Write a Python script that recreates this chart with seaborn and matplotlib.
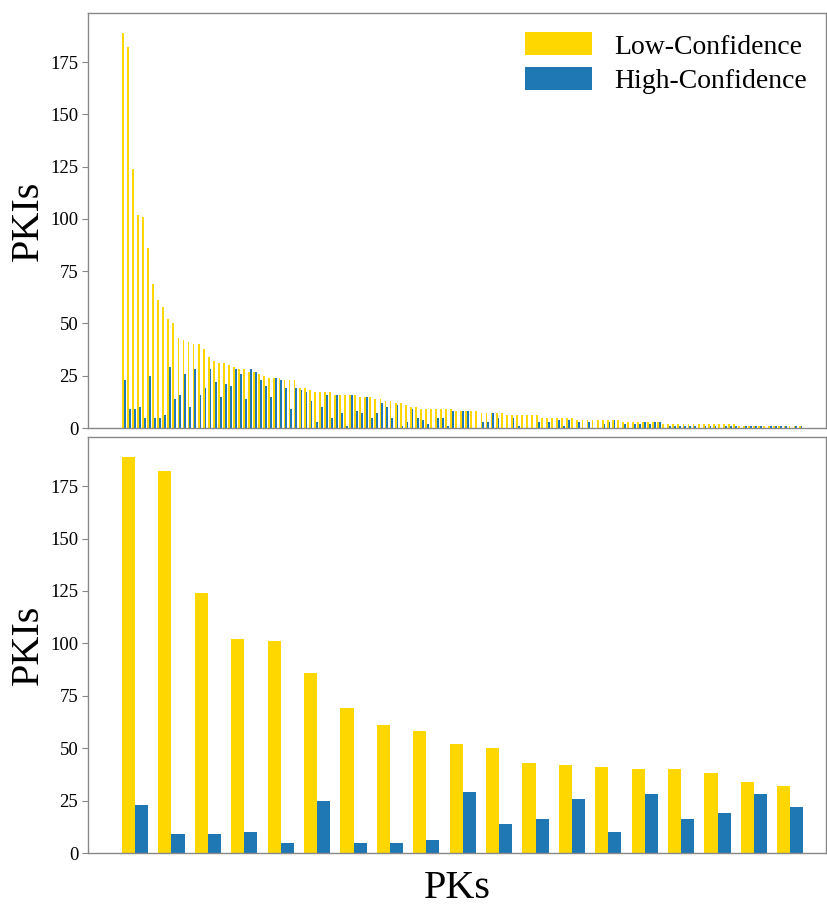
import matplotlib.pyplot as plt
import pandas as pd
import seaborn as sns

# PKIs per PK, sorted by low-confidence count
low_conf = [189, 182, 124, 102, 101, 86, 69, 61, 58, 52, 50, 43, 42, 41, 40, 40, 38, 34, 32,
            31, 31, 30, 29, 28, 28, 27, 27, 26, 25, 24, 24, 24, 23, 23,
            23, 19, 19, 18, 17, 17, 17, 17, 16, 16, 16, 16, 16, 15, 15, 15, 14, 14, 13, 13, 12,
            12, 11, 10, 10, 9, 9, 9, 9, 9, 9, 9, 8, 8, 8, 8, 8, 7, 7, 7, 7, 7,
            6, 6, 6, 6, 6, 6, 6,
            5, 5, 5, 5, 5, 5, 5,
            4, 4, 4, 4, 4, 4, 4, 4, 4,
            3, 3, 3, 3, 3, 3, 3, 3,
            2, 2, 2, 2, 2, 2, 2, 2, 2, 2, 2, 2, 2, 2, 2,
            1, 1, 1, 1, 1, 1, 1, 1, 1, 1, 1, 1, 1]
high_conf = [23, 9, 9, 10, 5, 25, 5, 5, 6, 29, 14, 16, 26, 10, 28, 16, 19, 28, 22,
             15, 21, 20, 28, 26, 14, 28, 27, 23, 20, 15, 24, 23, 19, 9,
             19, 18, 17, 13, 3, 10, 16, 5, 16, 7, 1, 16, 8, 7, 15, 5, 7, 12, 10, 5,
             11, 1, 3, 9, 5, 4, 2, 0, 5, 5, 1, 8, 0, 8, 8, 0, 0, 3, 3, 7, 5,
             0, 0, 5, 1, 0, 0, 0, 3, 0, 3, 0, 4, 1, 4, 0, 3, 0, 3, 0, 0,
             2, 3, 4, 0, 2, 0, 2, 2, 3, 2, 3, 3, 0, 1, 1, 1, 1, 1, 1, 0, 1,
             1, 1, 0, 1, 1, 1, 0, 1, 1, 1, 1, 0, 1, 1, 1, 1, 0, 1, 1]
series_names = ["Low-Confidence", "High-Confidence"]
colors = {"Low-Confidence": "#FFD700", "High-Confidence": "#1F77B4"}
top_n = 19


def long_df(n):
    pks = [f"PK{i + 1}" for i in range(n)]
    return pd.DataFrame({
        "pk": pks * 2,
        "pkis": low_conf[:n] + high_conf[:n],
        "kind": [series_names[0]] * n + [series_names[1]] * n,
    })


sns.set_style("ticks")
plt.rcParams['font.family'] = ['Liberation Serif', 'DejaVu Serif']
plt.rcParams['text.color'] = 'black'
plt.rcParams['axes.labelcolor'] = 'black'

fig = plt.figure(figsize=(8.27, 9.07), dpi=100)
ax_all = fig.add_axes([0.1064, 0.5281, 0.8924, 0.4576])
ax_top = fig.add_axes([0.1064, 0.0595, 0.8924, 0.4587])

n_all = len(low_conf)
for ax, n in [(ax_all, n_all), (ax_top, top_n)]:
    sns.barplot(data=long_df(n), x="pk", y="pkis", hue="kind", palette=colors,
                width=0.72, saturation=1, errorbar=None, linewidth=0, ax=ax)
    ax.set_ylim(0, max(low_conf) * 1.05)
    ax.set_yticks(range(0, 176, 25))
    ax.set_xticks([])
    ax.set_xlabel("")
    ax.set_ylabel("PKIs", fontsize=29, labelpad=2)
    ax.tick_params(axis="y", labelsize=13.5, color="#888888", labelcolor="black",
                   length=4, pad=3)
    for sp in ax.spines.values():
        sp.set_visible(True)
        sp.set_color("#888888")
        sp.set_linewidth(1)

# pixel-matched x ranges
ax_all.set_xlim(-7.09, 139.05)
ax_top.set_xlim(-1.294, 18.98)

ax_top.get_legend().remove()
ax_top.set_xlabel("PKs", fontsize=29, labelpad=12)

lgd = ax_all.legend(loc="upper right", frameon=False, fontsize=20,
                    handlelength=2.4, handleheight=0.9, borderaxespad=0.3,
                    labelspacing=0.28)

plt.savefig("out.png", dpi=100)
